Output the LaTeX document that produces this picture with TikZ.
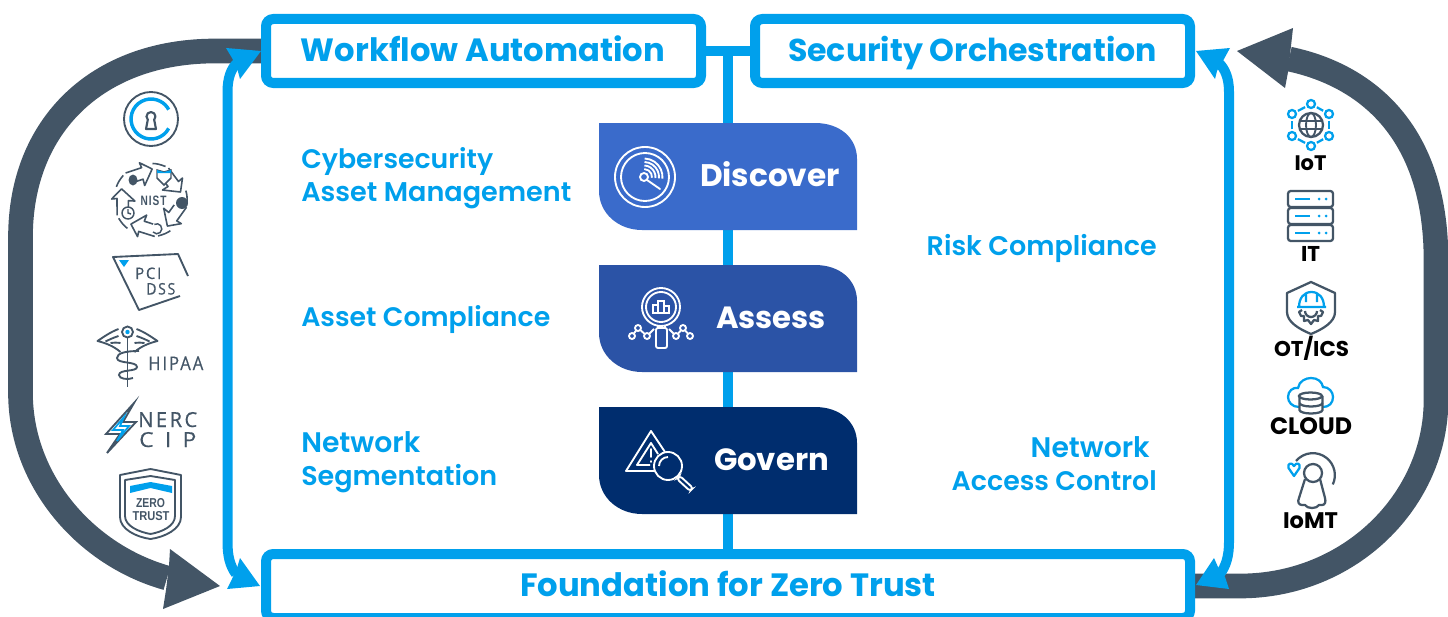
\documentclass[tikz,border=0pt]{standalone}
\usepackage{fontspec}
\usepackage{graphicx}
\usetikzlibrary{calc}
\setmainfont{Poppins}
\newfontfamily\medf{Poppins SemiBold}
\newfontfamily\logof[LetterSpace=12,FakeBold=0.5]{Open Sans}
\newfontfamily\zerof{Liberation Sans}
\definecolor{cblue}{HTML}{00A0EC}
\definecolor{cdark}{HTML}{435566}
\definecolor{pillA}{HTML}{3A6BCB}
\definecolor{pillB}{HTML}{2B53A6}
\definecolor{pillC}{HTML}{002D6E}
\newdimen\pxu \pxu=.75pt
\newcommand\fitw[2]{\resizebox{#1\pxu}{!}{#2}}
\newcommand\fitwh[3]{\resizebox{#1\pxu}{#2\pxu}{#3}}
\tikzset{
 bluebox/.style={draw=cblue,fill=white,line width=7.5pt,rounded corners=5.5pt,minimum height=48pt,inner sep=0pt},
 bluelink/.style={draw=cblue,line width=7.5pt},
 bluehead/.style={fill=cblue},
 darkarc/.style={draw=cdark,line width=18.5pt},
 darkhead/.style={fill=cdark},
 lbl/.style={text=cblue,inner sep=0pt},
 pilltxt/.style={text=white,inner sep=0pt,anchor=base},
 whiteline/.style={draw=white,line width=1.4pt},
 iconline/.style={draw=cdark,line width=1.4pt},
 thickicon/.style={draw=cdark,line width=1.7pt},
 iconblue/.style={draw=cblue,line width=1.7pt},
 captxt/.style={text=black,inner sep=0pt,anchor=base},
 logotxt/.style={text=cdark,inner sep=0pt,anchor=base west},
}
\begin{document}
\begin{tikzpicture}[x=.75pt,y=-.75pt]
\useasboundingbox (0,0) rectangle (1448,617);
\clip (0,0) rectangle (1448,617);
% named free ends
\coordinate (darkLstart) at (262,51);
\coordinate (darkLend) at (167,578);
\coordinate (darkRstart) at (1195,586);
\coordinate (darkRend) at (1289,59);
% dark loops
\draw[darkarc] (darkLstart) -- (215,51) .. controls (98,51) and (20.5,125) .. (20.5,237) -- (20.5,393) .. controls (20.5,480) and (85,555) .. (darkLend);
\fill[darkhead] (170,549) -- (220,586) -- (163,609) -- (166,590) -- (169,566) -- cycle;
\draw[darkarc] (darkRstart) -- (1240,586) .. controls (1350,586) and (1436,500) .. (1436,400) -- (1436,260) .. controls (1436,130) and (1365,75) .. (darkRend);
\fill[darkhead] (1237,51) -- (1293,28) -- (1291,46) -- (1288,72) -- (1285,88) -- cycle;
% boxes
\node[bluebox,minimum width=326.25pt] (wf) at (483.5,51) {};
\node[bluebox,minimum width=326.25pt] (sec) at (972.5,51) {};
\node[bluebox,minimum width=693pt] (found) at (728,586) {};
% spine
\draw[bluelink] (wf.east) -- (sec.west);
\coordinate (spineTop) at ($(wf.east)!.5!(sec.west)$);
\draw[bluelink] (spineTop) -- (spineTop |- found.north);
% side connectors
\coordinate (lTop) at (237,63);
\coordinate (lBot) at (236,574);
\coordinate (rTop) at (1219,63);
\coordinate (rBot) at (1220,574);
\draw[bluelink] (lTop) .. controls (231,69) and (227.5,78) .. (227.5,92) -- (227.5,542) .. controls (227.5,556) and (230,566) .. (lBot);
\fill[bluehead] (226,48) -- (wf.west) -- (240,79) -- (237,68) -- (232,58) -- cycle;
\fill[bluehead] (227,589) -- (260,586) -- (240,558) -- (237,568) -- (232,579) -- cycle;
\draw[bluelink] (rTop) .. controls (1225,69) and (1229,78) .. (1229,92) -- (1229,542) .. controls (1229,556) and (1226,566) .. (rBot);
\fill[bluehead] (1196,51) -- (1230,48) -- (1224,59) -- (1217,71) -- (1215,79) -- cycle;
\fill[bluehead] (1196,585) -- (1229,589) -- (1225,577) -- (1218,567) -- (1214,558) -- cycle;
% box texts
\node[lbl,anchor=base] at (483,61) {\fitw{364}{\bfseries Workflow Automation}};
\node[lbl,anchor=base] at (972.5,61) {\fitw{369}{\bfseries Security Orchestration}};
\node[lbl,anchor=base] at (728,596) {\fitw{416}{\bfseries Foundation for Zero Trust}};
% pills
\foreach \yy/\cc in {123/pillA,265/pillB,407/pillC}{
 \fill[\cc] (599,\yy) -- (815,\yy) .. controls (840,\yy) and (857,\yy+15) .. (857,\yy+36) -- (857,\yy+107) -- (642,\yy+107) .. controls (618,\yy+107) and (599,\yy+90) .. (599,\yy+68) -- cycle;
}
\node[pilltxt] (tdisc) at (770,186) {\fitw{140}{\bfseries Discover}};
\node[pilltxt] (tass) at (771,328) {\fitw{110}{\bfseries Assess}};
\node[pilltxt] (tgov) at (771.5,470) {\fitw{115}{\bfseries Govern}};
% Discover icon
\draw[whiteline] (645,177) circle[radius=30];
\draw[whiteline] (645,177) circle[radius=24];
\draw[whiteline] (644,177) circle[radius=4];
\draw[whiteline,line cap=round] (647,180) -- (660,189);
\foreach \r in {8,11.5,15,18.5}{
 \draw[whiteline] (644,177) ++(5:\r) arc[start angle=5,end angle=-88,radius=\r];
}
% Assess icon
\draw[whiteline] (661,307) circle[radius=19];
\draw[whiteline] (661,307) circle[radius=15];
\draw[whiteline] (653,313) rectangle (658,305) (658,313) rectangle (664,301) (664,313) rectangle (669,306);
\draw[whiteline] (652,313) -- (670,313);
\draw[whiteline,rounded corners=1.5pt] (656,328) rectangle (667,348);
\draw[whiteline] (658,326) -- (658,328) (665,326) -- (665,328);
\draw[whiteline] (632,336) -- (638,328) -- (647,336) -- (654,329);
\draw[whiteline] (669,329) -- (676,336) -- (683,328) -- (690,336);
\foreach \p in {(632,336),(638,328),(647,336),(676,336),(683,328),(690,336)}{
 \draw[whiteline,fill=pillB] \p circle[radius=3];
}
% Govern icon
\draw[whiteline,line join=round] (654,471) -- (626,471) -- (651,431) -- (665,452);
\draw[whiteline,line join=round] (650,465) -- (637,465) -- (651,443) -- (658,454);
\draw[whiteline,line cap=round] (651,449) -- (651,457) (651,461) -- (651,462);
\draw[whiteline] (668,466) circle[radius=14];
\draw[whiteline] (659,466) arc[start angle=180,end angle=270,radius=9];
\draw[whiteline,rounded corners=2pt] (677,479) -- (680,476) -- (693,488) -- (690,491) -- cycle;
% Left labels
\node[lbl,anchor=base west] at (301,168) {\medf\fontsize{20}{24.75}\selectfont\begin{tabular}[t]{@{}l@{}}\fitw{192}{Cybersecurity}\\\fitw{270}{Asset Management}\end{tabular}};
\node[lbl,anchor=base west] at (301,326) {\medf\fontsize{20}{24.75}\selectfont\fitw{249}{Asset Compliance}};
\node[lbl,anchor=base west] at (301,452) {\medf\fontsize{20}{24.75}\selectfont\begin{tabular}[t]{@{}l@{}}\fitw{119}{Network}\\\fitw{196}{Segmentation}\end{tabular}};
\node[lbl,anchor=base east] at (1157,255) {\medf\fontsize{20}{24.75}\selectfont\fitw{230}{Risk Compliance}};
\node[lbl,anchor=base east] at (1157,457) {\medf\fontsize{20}{24.75}\selectfont\begin{tabular}[t]{@{}r@{}}\fitw{119}{Network}\kern5.25pt\\\fitw{205}{Access Control}\end{tabular}};
% Logo C
\draw[iconline] (151,119) circle[radius=27];
\draw[draw=cblue,line width=2.6pt] (168.7,128.4) arc[start angle=28,end angle=332,radius=20];
\draw[iconline,line width=1.6pt,line join=round] (147.8,119.7) arc[start angle=135,end angle=405,radius=4.5] -- (156,129) -- (146,129) -- cycle;
% Logo NIST
\foreach \a in {0,72,144,216,288}{
 \begin{scope}[shift={(150.5,200)},rotate=\a]
  \draw[iconline,line width=1.2pt,line join=round] (18,-32) -- (28,-18.5) -- (32,-22) -- (30,-8) -- (12,-10) -- (17.5,-13.5) -- (12,-21);
  \draw[iconline,line width=1.2pt] (15,-33.5) .. controls (10,-35.5) and (6,-36.5) .. (2,-36.5);
 \end{scope}
}
\fill[cdark] (133,180) ellipse[x radius=4.5,y radius=5.5];
\fill[cdark] (182,203) circle[radius=6];
\draw[iconline,line width=1.1pt,fill=white] (128,213) circle[radius=6];
\draw[iconline,line width=1.1pt] (128,209) -- (128,213) -- (131,214);
\draw[iconline,line width=1.1pt] (153,232) arc[start angle=140,end angle=-120,radius=5];
\draw[iconline,line width=1.1pt,fill=white] (157,170) -- (164,172) -- (171,170) -- (171,178) -- (164,185) -- (157,178) -- cycle;
\fill[cblue] (157,170) -- (164,172) -- (171,170) -- (171,173) -- (157,173) -- cycle;
\node[text=cdark,inner sep=0pt,anchor=base] at (153.5,205) {\fitwh{26}{9.5}{\zerof\bfseries N\kern1pt I\kern1pt S\kern1pt T}};
% Logo PCI
\draw[iconline,line join=round] (188,276) -- (178,254) -- (113,257) -- (139,310) -- (180,296);
\fill[cblue] (119,260) -- (129,260) -- (124,267) -- cycle;
\node[logotxt] at (135,279) {\fitwh{26}{11.5}{\logof PCI}};
\node[logotxt] at (146,294.5) {\fitwh{29}{11.5}{\logof DSS}};
% Logo HIPAA
\draw[iconline] (127.5,338) -- (127.5,387);
\draw[iconline] (127.5,332) circle[radius=5.5];
\fill[cblue] (127.5,332) circle[radius=2.2];
\foreach \s in {1,-1}{
 \begin{scope}[shift={(127.5,0)},xscale=\s]
  \draw[iconline,line join=round] (9,329) .. controls (17,332) and (24,337) .. (30,341) .. controls (22,343) and (14,346) .. (7,352);
  \draw[iconline] (9,336) .. controls (15,338) and (19,340) .. (22,341.5);
  \draw[iconline] (7,343) .. controls (11,342.5) and (14,342.5) .. (17,343);
 \end{scope}
}
\draw[iconline] (139,351) .. controls (126,351) and (117,353) .. (117,358) .. controls (117,364) and (137,361) .. (137,367) .. controls (137,372) and (119,369) .. (119,375) .. controls (119,379) and (128,380) .. (133,378);
\node[logotxt] at (148,370) {\fitwh{55}{13.5}{\logof HIPAA}};
% Logo NERC
\draw[iconline,line join=miter] (134,403) -- (106,434) -- (120,434) -- (107,453) -- (136,422) -- (123,422) -- cycle;
\draw[draw=cblue,line width=1.3pt,line join=miter] (124,417) -- (113,430) -- (123,430) -- (117,441) -- (129,426) -- (120,426) -- cycle;
\node[logotxt] at (138,427) {\fitwh{59}{15}{\logof NERC}};
\node[logotxt] at (139,447) {\fitwh{57}{15}{\logof C\kern5pt I\kern5pt P}};
% Logo Zero Trust
\draw[iconline,line join=round] (150.5,469) -- (181,475) -- (181,517) .. controls (181,529) and (165,537) .. (150.5,539) .. controls (136,537) and (120,529) .. (120,517) -- (120,475) -- cycle;
\draw[iconline,line join=round] (150.5,476) -- (175,480) -- (175,516) .. controls (175,526) and (162,532) .. (150.5,534) .. controls (139,532) and (125,526) .. (125,516) -- (125,480) -- cycle;
\fill[cblue] (130,486) -- (150.5,482) -- (172,486) -- (172,493) -- (150.5,488) -- (130,493) -- cycle;
\node[text=cdark,inner sep=0pt,anchor=base] at (150.5,507) {\fitwh{29}{9}{\zerof\bfseries ZERO}};
\node[text=cdark,inner sep=0pt,anchor=base] at (151,520) {\fitwh{37}{9}{\zerof\bfseries TRUST}};
% IoT
\coordinate (t1) at (1311,104);
\coordinate (t2) at (1329,114);
\coordinate (t3) at (1329,136);
\coordinate (t4) at (1311,146);
\coordinate (t5) at (1292,136);
\coordinate (t6) at (1292,114);
\foreach \p/\q in {t1/t2,t2/t3,t3/t4,t4/t5,t5/t6,t6/t1}{
 \draw[iconblue,shorten >=5pt,shorten <=5pt] (\p) -- (\q);
}
\foreach \p in {t1,t2,t3,t4,t5,t6}{
 \draw[iconblue] (\p) circle[radius=4];
}
\draw[thickicon] (1311,125) circle[radius=12];
\draw[iconline] (1311,125) ellipse[x radius=5,y radius=12];
\draw[iconline] (1299,121) -- (1323,121) (1299,129) -- (1323,129);
\node[captxt] at (1310.5,170) {\fitw{32}{\bfseries IoT}};
% IT
\foreach \yy in {191,208,225}{
 \draw[thickicon,rounded corners=2pt] (1288,\yy) rectangle (1333,\yy+16);
 \draw[iconblue] (1295,\yy+8) -- (1310,\yy+8);
 \fill[cblue] (1319,\yy+8) circle[radius=1.5] (1326,\yy+8) circle[radius=1.5];
}
\node[captxt] at (1310.5,261) {\fitw{19}{\bfseries IT}};
% OT
\draw[thickicon,line join=round] (1311,282) -- (1335,293) -- (1335,312) .. controls (1335,322) and (1323,329) .. (1311,334) .. controls (1299,329) and (1287,322) .. (1287,312) -- (1287,293) -- cycle;
\draw[iconblue,line join=round] (1297,307) -- (1326,307) (1299,307) .. controls (1299,298) and (1304,292) .. (1311.5,292) .. controls (1319,292) and (1324,298) .. (1324,307) (1306,294) -- (1306,302) (1317,294) -- (1317,302);
\draw[thickicon,line join=round] (1302,310) -- (1299,312) -- (1301,316) -- (1304,316) -- (1304,321) -- (1308,320) -- (1311,324) -- (1314,320) -- (1318,321) -- (1318,316) -- (1321,316) -- (1323,312) -- (1320,310);
\draw[thickicon] (1305,311) arc[start angle=180,end angle=0,radius=6];
\node[captxt] at (1311.5,356) {\fitw{75}{\bfseries OT/ICS}};
% CLOUD
\draw[iconblue] (1299,407) .. controls (1292,407) and (1288,402) .. (1288,397) .. controls (1288,391) and (1293,387) .. (1298,388) .. controls (1299,381) and (1306,378) .. (1311,378) .. controls (1318,378) and (1322,382) .. (1323,387) .. controls (1329,387) and (1333,392) .. (1333,397) .. controls (1333,403) and (1329,407) .. (1323,407);
\draw[thickicon,fill=white] (1299.5,396) -- (1299.5,410) arc[start angle=180,end angle=0,x radius=11.5,y radius=3.5] -- (1322.5,396);
\draw[thickicon,fill=white] (1310.5,396) ellipse[x radius=11.5,y radius=3.5];
\draw[thickicon] (1299.5,403) arc[start angle=180,end angle=0,x radius=11.5,y radius=3.5];
\node[captxt] at (1311,434) {\fitw{82}{\bfseries CLOUD}};
% IoMT
\draw[thickicon] (1296,461) arc[start angle=-140,end angle=25,radius=22];
\draw[thickicon] (1313,473) circle[radius=9];
\draw[thickicon,line join=round] (1305,479) -- (1299,498) .. controls (1297,502) and (1299,505) .. (1302,505) -- (1305,505) .. controls (1307,509) and (1317,509) .. (1319,505) -- (1322,505) .. controls (1325,505) and (1326,502) .. (1325,498) -- (1320,479);
\draw[iconblue,line join=round] (1294,476) -- (1288.5,468) .. controls (1287,463) and (1292,462) .. (1294,466) .. controls (1296,462) and (1301,463) .. (1299.5,468) -- cycle;
\node[captxt] at (1310.5,528) {\fitw{55}{\bfseries IoMT}};
\end{tikzpicture}
\end{document}
